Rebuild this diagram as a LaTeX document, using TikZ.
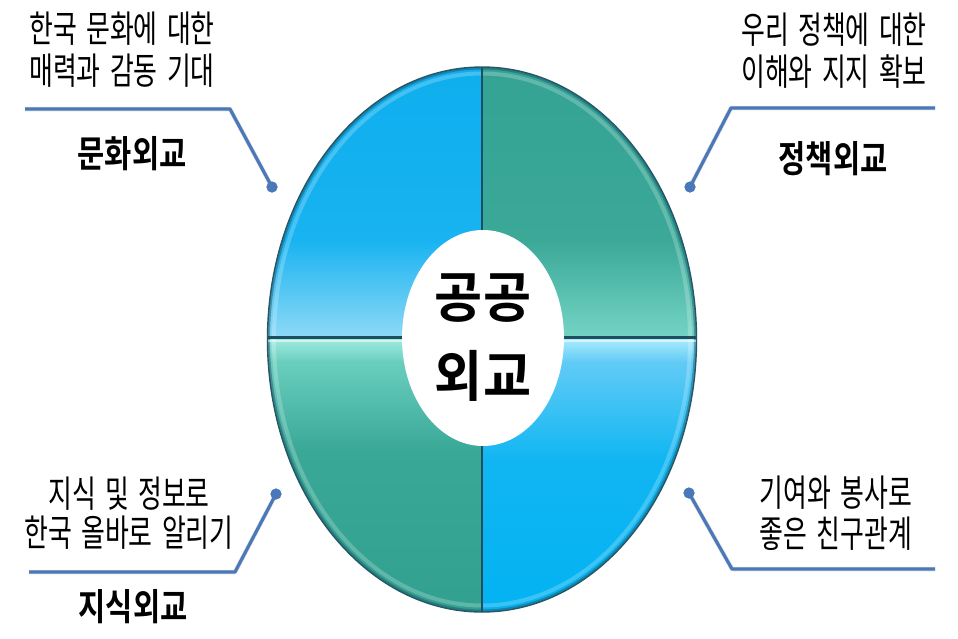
\documentclass[tikz,border=0pt]{standalone}
\usepackage{fontspec}
\usetikzlibrary{shapes.geometric}
\newfontfamily\kr[FakeStretch=0.7,WordSpace=1.6]{Noto Sans CJK KR}
\newfontfamily\krb[FakeStretch=0.8,BoldFont={Noto Sans CJK KR Bold}]{Noto Sans CJK KR}
\newfontfamily\krc[FakeStretch=0.95,BoldFont={Noto Sans CJK KR Bold}]{Noto Sans CJK KR}
\definecolor{tlA}{HTML}{0EAEEE}
\definecolor{tlB}{HTML}{18B3F0}
\definecolor{tlC}{HTML}{8ED9F6}
\definecolor{trA}{HTML}{34A394}
\definecolor{trB}{HTML}{3BA898}
\definecolor{trC}{HTML}{74D4C4}
\definecolor{blA}{HTML}{A4ECE2}
\definecolor{blB}{HTML}{6ACEBE}
\definecolor{blC}{HTML}{3AA897}
\definecolor{blD}{HTML}{31A08F}
\definecolor{brA}{HTML}{AEEEFC}
\definecolor{brB}{HTML}{62CBF6}
\definecolor{brC}{HTML}{10B6F2}
\definecolor{brD}{HTML}{03B2F2}
\definecolor{edge}{HTML}{22586A}
\definecolor{divc}{HTML}{1D4F5E}
\definecolor{lead}{HTML}{4A78B8}
\tikzset{
  desc/.style={align=center, inner sep=0pt, text=black},
  lab/.style={inner sep=0pt, text=black, font=\krb\bfseries\fontsize{37}{42}\selectfont},
  dotnode/.style={circle, fill=lead, inner sep=0pt, minimum size=11pt},
  leader/.style={draw=lead, line width=3.2pt, line join=round},
  leadshadow/.style={draw=black, opacity=0.12, line width=4.5pt, line join=round},
}
\begin{document}
\begin{tikzpicture}[x=1pt,y=-1pt]
\useasboundingbox[fill=white] (0,0) rectangle (958,638);
% quadrants
\begin{scope}
\clip (482,339.5) ellipse [x radius=214.5pt, y radius=272.5pt];
\shade[top color=tlA, bottom color=tlB] (260,60) rectangle (482.5,241);
\shade[top color=tlB, bottom color=tlC] (260,240) rectangle (482.5,338);
\shade[top color=trA, bottom color=trB] (481.5,60) rectangle (705,241);
\shade[top color=trB, bottom color=trC] (481.5,240) rectangle (705,338);
\shade[top color=blA, bottom color=blB] (260,337) rectangle (482.5,362);
\shade[top color=blB, bottom color=blC] (260,361) rectangle (482.5,451);
\shade[top color=blC, bottom color=blD] (260,450) rectangle (482.5,620);
\shade[top color=brA, bottom color=brB] (481.5,337) rectangle (705,362);
\shade[top color=brB, bottom color=brC] (481.5,361) rectangle (705,461);
\shade[top color=brC, bottom color=brD] (481.5,460) rectangle (705,620);
% inner highlight ring
\draw[white, opacity=0.22, line width=4pt] (482,339.5) ellipse [x radius=208pt, y radius=266pt];
% dark rim
\draw[edge, opacity=0.5, line width=3pt] (482,339.5) ellipse [x radius=213.5pt, y radius=271.5pt];
% dividers
\draw[white, opacity=0.55, line width=2pt] (260,341) -- (705,341);
\draw[divc, line width=2.2pt] (260,337.5) -- (705,337.5);
\draw[divc, line width=2.2pt] (482,60) -- (482,620);
\end{scope}
\draw[edge, line width=1.4pt] (482,339.5) ellipse [x radius=214.5pt, y radius=272.5pt];
% center
\node[ellipse, fill=white, minimum width=162pt, minimum height=216pt, inner sep=0pt, draw=none,
      align=center, font=\krc\bfseries\fontsize{55}{79}\selectfont] (center) at (483,338) {공공\\외교};
% leader coordinates
\node[dotnode] (dTL) at (272,187) {};
\coordinate (cTL) at (230,109);
\coordinate (eTL) at (25,109);
\node[dotnode] (dTR) at (690,187) {};
\coordinate (cTR) at (731,108);
\coordinate (eTR) at (935,108);
\node[dotnode] (dBL) at (276,494) {};
\coordinate (cBL) at (235,572);
\coordinate (eBL) at (29,572);
\node[dotnode] (dBR) at (689,493) {};
\coordinate (cBR) at (732,569);
\coordinate (eBR) at (935,569);
% shadows
\begin{scope}[shift={(1.5,2.5)}]
\draw[leadshadow] (dTL.center) -- (cTL) -- (eTL);
\draw[leadshadow] (dTR.center) -- (cTR) -- (eTR);
\draw[leadshadow] (dBL.center) -- (cBL) -- (eBL);
\draw[leadshadow] (dBR.center) -- (cBR) -- (eBR);
\end{scope}
\draw[leader] (dTL.center) -- (cTL) -- (eTL);
\draw[leader] (dTR.center) -- (cTR) -- (eTR);
\draw[leader] (dBL.center) -- (cBL) -- (eBL);
\draw[leader] (dBR.center) -- (cBR) -- (eBR);
\node[dotnode] at (dTL) {};
\node[dotnode] at (dTR) {};
\node[dotnode] at (dBL) {};
\node[dotnode] at (dBR) {};
% texts
\node[desc, font=\kr\fontsize{37}{42}\selectfont] (tTL) at (122,50) {한국 문화에 대한\\매력과 감동 기대};
\node[lab] (lTL) at (132,154) {문화외교};
\node[desc, font=\kr\fontsize{37}{42}\selectfont] (tTR) at (834,51) {우리 정책에 대한\\이해와 지지 확보};
\node[lab] (lTR) at (833,159) {정책외교};
\node[desc, font=\kr\fontsize{37}{39}\selectfont] (tBL) at (129,513) {지식 및 정보로\\한국 올바로 알리기};
\node[lab] (lBL) at (133,607) {지식외교};
\node[desc, font=\kr\fontsize{37}{41}\selectfont] (tBR) at (836,513) {기여와 봉사로\\좋은 친구관계};
\end{tikzpicture}
\end{document}
